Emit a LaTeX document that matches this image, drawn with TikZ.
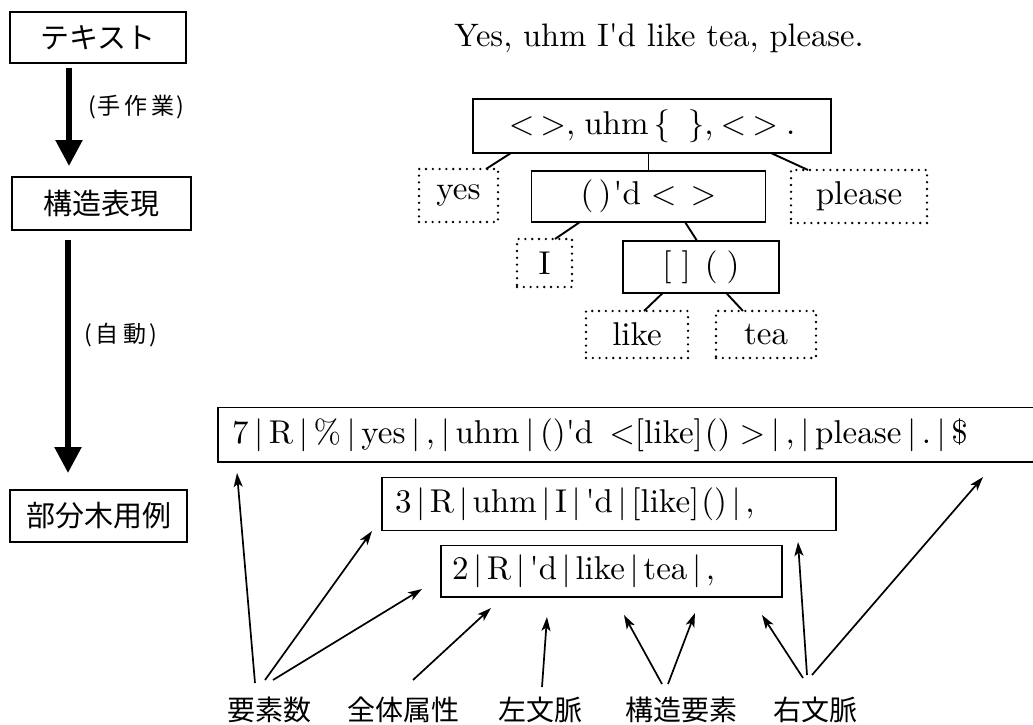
\documentclass[tikz,border=0pt]{standalone}
\usepackage{fontspec}
\newfontfamily\jp{Noto Sans CJK JP}
\newfontfamily\lmten{lmroman10-regular.otf}
\usetikzlibrary{arrows.meta,calc}
\newcommand{\vb}{\hspace{0.17em}|\hspace{0.17em}}
\newcommand{\vbs}{\hspace{0.14em}|\hspace{0.14em}}
\begin{document}
\begin{tikzpicture}[x=1pt,y=-1pt,
  every node/.style={inner sep=0pt, outer sep=0pt},
  rm/.style={font=\lmten\fontsize{33}{38}\selectfont},
  sbox/.style={draw, line width=1.9pt, rm},
  dbox/.style={draw, line width=2.6pt, line cap=round, dash pattern=on 0pt off 6.8pt, rm},
  jbox/.style={draw, line width=1.9pt, font=\jp\fontsize{29}{34}\selectfont},
  jlab/.style={font=\jp\fontsize{28}{32}\selectfont},
  jsmall/.style={font=\jp\fontsize{23}{27}\selectfont},
  tline/.style={line width=1.9pt},
  bigarrow/.style={line width=5.5pt, -{Triangle[length=26pt,width=26pt]}},
  thin/.style={line width=1.7pt, -{Stealth[length=14pt,width=9pt,inset=3.5pt]}},
  rowbox/.style={draw, line width=1.9pt, anchor=west, align=left, rm}
]
\clip (0,0) rectangle (1033,725);
\fill[white] (0,0) rectangle (1033,725);

% left column
\node[jbox, minimum width=176pt, minimum height=51pt] (tx) at (98,37.5) {テキスト};
\node[jbox, minimum width=179pt, minimum height=53pt] (kz) at (101.5,203.5) {構造表現};
\node[jbox, minimum width=177pt, minimum height=52pt] (bb) at (98.5,516) {部分木用例};
\draw[bigarrow] ($(tx.south west)+(59,5)$) -- ($(kz.north west)+(57,-11)$);
\draw[bigarrow] ($(kz.south west)+(56,10)$) -- ($(bb.north west)+(58,-17)$);
\node[jsmall] (m1) at (136.5,107) {(\kern2pt 手\kern4pt 作\kern4pt 業\kern2pt)};
\node[jsmall] (m2) at (121,335) {(\kern2.5pt 自\kern5.5pt 動\kern2.5pt)};

% tree
\node[font=\lmten\fontsize{32.5}{38}\selectfont, anchor=base] (title) at (659,47) {Yes, uhm I'd like tea, please.};
\node[sbox, minimum width=358pt, minimum height=54pt] (root) at (652,126)
  {<\hspace{6pt}>,\hspace{9pt}uhm\hspace{5pt}\{\hspace{18pt}\},\hspace{7pt}<\hspace{6pt}>\hspace{8pt}.};
\node[dbox, minimum width=79pt, minimum height=53pt] (yes) at (458.5,195.5) {yes};
\node[sbox, minimum width=234pt, minimum height=51pt] (mid) at (648.5,196.5)
  {(\hspace{5pt})\hspace{2pt}'d\hspace{10pt}<\hspace{14pt}>};
\node[dbox, minimum width=136pt, minimum height=53pt] (please) at (859,196.5) {please};
\node[dbox, minimum width=55pt, minimum height=48pt] (I) at (544.5,263) {I};
\node[sbox, minimum width=156pt, minimum height=52pt] (br) at (701,266.75)
  {[\hspace{10pt}]\hspace{14pt}(\hspace{9pt})};
\node[dbox, minimum width=102pt, minimum height=47pt] (like) at (637,334.5) {like};
\node[dbox, minimum width=100pt, minimum height=47pt] (tea) at (766,334.5) {tea};

\draw[tline] ($(root.south west)+(38,0)$) -- ($(yes.north east)+(-12,0)$);
\draw[tline] (mid.north |- root.south) -- (mid.north);
\draw[tline] ($(root.south west)+(298,0)$) -- ($(please.north west)+(17,0)$);
\draw[tline] ($(mid.south west)+(48.5,0)$) -- ($(I.north west)+(38,0)$);
\draw[tline] ($(mid.south west)+(153.5,0)$) -- ($(br.north west)+(74,0)$);
\draw[tline] ($(br.south west)+(40,0)$) -- ($(like.north west)+(58,0)$);
\draw[tline] ($(br.south west)+(103,0)$) -- ($(tea.north west)+(27,0)$);

% subtree rows
\node[rowbox, inner xsep=14pt, text width=794pt, minimum height=54.5pt] (b7) at (218,434.75)
  {7\vb R\vb \%\vb yes\vb ,\vb uhm\vb ()'d\hspace{16pt}<[like]\hspace{2pt}()\hspace{9pt}>\vb ,\vb please\vb .\vb \$};
\node[rowbox, inner xsep=13pt, text width=428pt, minimum height=53pt] (b3) at (382,504)
  {3\vbs R\vbs uhm\vbs I\vbs 'd\vbs [like]\hspace{2pt}()\vbs ,};
\node[rowbox, inner xsep=11pt, text width=319pt, minimum height=51.5pt] (b2) at (441,571.25)
  {2\vbs R\vbs 'd\vbs like\vbs tea\vbs ,};

% labels
\node[jlab] (L1) at (269.5,710) {要素数};
\node[jlab] (L2) at (403.5,710) {全体属性};
\node[jlab] (L3) at (540.5,710) {左文脈};
\node[jlab] (L4) at (681,710) {構造要素};
\node[jlab] (L5) at (815,710) {右文脈};

\draw[thin] ($(L1.center)+(-14.5,-27)$) -- ($(b7.south west)+(19,11)$);
\draw[thin] ($(L1.center)+(-4.5,-30)$) -- ($(b3.south west)+(-10,0.5)$);
\draw[thin] ($(L1.center)+(3.5,-30)$) -- ($(b2.south west)+(-19,-8)$);
\draw[thin] ($(L2.center)+(9.5,-30)$) -- ($(b2.south west)+(50,11)$);
\draw[thin] ($(L3.center)+(1.5,-23)$) -- ($(b2.south west)+(106,20)$);
\draw[thin] ($(L4.center)+(-19,-26)$) -- ($(b2.south west)+(183,18)$);
\draw[thin] ($(L4.center)+(-13,-26)$) -- ($(b2.south west)+(254,16)$);
\draw[thin] ($(L5.center)+(-12,-32)$) -- ($(b2.south east)+(-20,18)$);
\draw[thin] ($(L5.center)+(-8,-35)$) -- ($(b3.south east)+(-38,11.5)$);
\draw[thin] ($(L5.center)+(-3,-35)$) -- ($(b7.south west)+(765,15)$);
\end{tikzpicture}
\end{document}
